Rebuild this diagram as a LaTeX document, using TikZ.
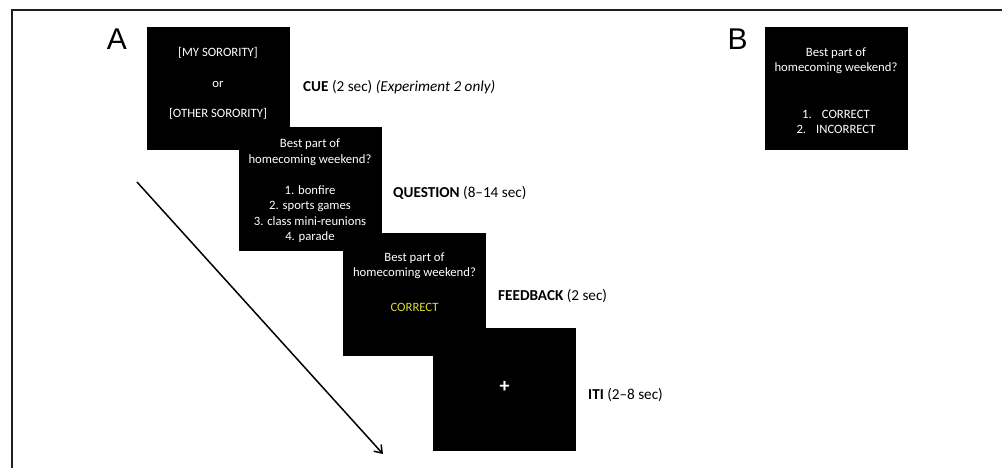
\documentclass[tikz,border=0pt]{standalone}
\usepackage{fontspec}
\setmainfont{Carlito}
\newfontfamily\panelfont{Liberation Sans}
\usepackage{tikz}
\definecolor{rahmengrau}{RGB}{35,31,32}
\definecolor{feedbackgelb}{RGB}{218,218,60}
\usetikzlibrary{arrows.meta}

\begin{document}
\begin{tikzpicture}[screen/.style={fill=black, minimum width=143pt, minimum height=123pt, inner sep=0pt},
				screentext/.style={text=white, align=center, inner sep=0pt, font=\fontsize{12.7}{15.5}\selectfont},
				steplabel/.style={anchor=west, inner sep=0pt, font=\fontsize{15.2}{18}\selectfont},
				panel/.style={inner sep=0pt, font=\panelfont\fontsize{30}{36}\selectfont},
				x=1pt, y=-1pt,
				>={Straight Barb[length=7pt, width=10pt]}]   %Pfeilspitzen
				%Bildbereich
				\useasboundingbox (0,0) rectangle (1002,468);
				%Rahmen zeichnen
				\draw[rahmengrau, line width=2.2pt] (1002,10) -- (12,10) -- (12,468);
				%Teil A
				\node[panel] (panelA) at (117,39) {A};
				% Hinweisreiz
				\node[screen] (cue) at (218,88.5) {};
				\node[screentext] (cuetext) at ([yshift=5pt]cue.center) {[MY SORORITY]\\[15pt] or\\[15pt] [OTHER SORORITY]};
				\node[steplabel] (cuelabel) at (303,87) {\textbf{CUE} (2 sec) \textit{(Experiment 2 only)}};
				% Frage
				\node[screen] (question) at (310,189) {};
				\node[screentext] (questiontext) at ([yshift=-2pt]question.center) {Best part of\\ homecoming weekend?\\[15.5pt] 1. bonfire\\ 2. sports games\\ 3. class mini-reunions\\ 4. parade};
				\node[steplabel] (questionlabel) at (393,193) {\textbf{QUESTION} (8--14 sec)};
				% Rueckmeldung
				\node[screen] (feedback) at (414.5,294.5) {};
				\node[screentext] (feedbacktext) at ([yshift=12.5pt]feedback.center) {Best part of\\ homecoming weekend?\\[19pt] \textcolor{feedbackgelb}{CORRECT}};
				\node[steplabel] (feedbacklabel) at (498,296) {\textbf{FEEDBACK} (2 sec)};
				% Fixationskreuz
				\node[screen] (iti) at (504.5,389.5) {};
				\node[screentext, font=\fontsize{20}{22}\selectfont\bfseries] (ititext) at ([yshift=3pt]iti.center) {+};
				\node[steplabel] (itilabel) at (588,395) {\textbf{ITI} (2--8 sec)};
				% Zeitpfeil
				\coordinate (zeitstart) at (137,182);
				\coordinate (zeitende) at (383,454);
				\draw[->, line width=1.5pt] (zeitstart) -- (zeitende);
				%Teil B
				\node[panel] (panelB) at (737.5,39) {B};
				\node[screen] (rating) at (836,88.5) {};
				\node[screentext] (ratingtext) at ([yshift=-2pt]rating.center) {Best part of\\ homecoming weekend?\\[31pt] 1.\hspace{10pt}CORRECT\\ 2.\hspace{10pt}INCORRECT};
			\end{tikzpicture}
\end{document}
